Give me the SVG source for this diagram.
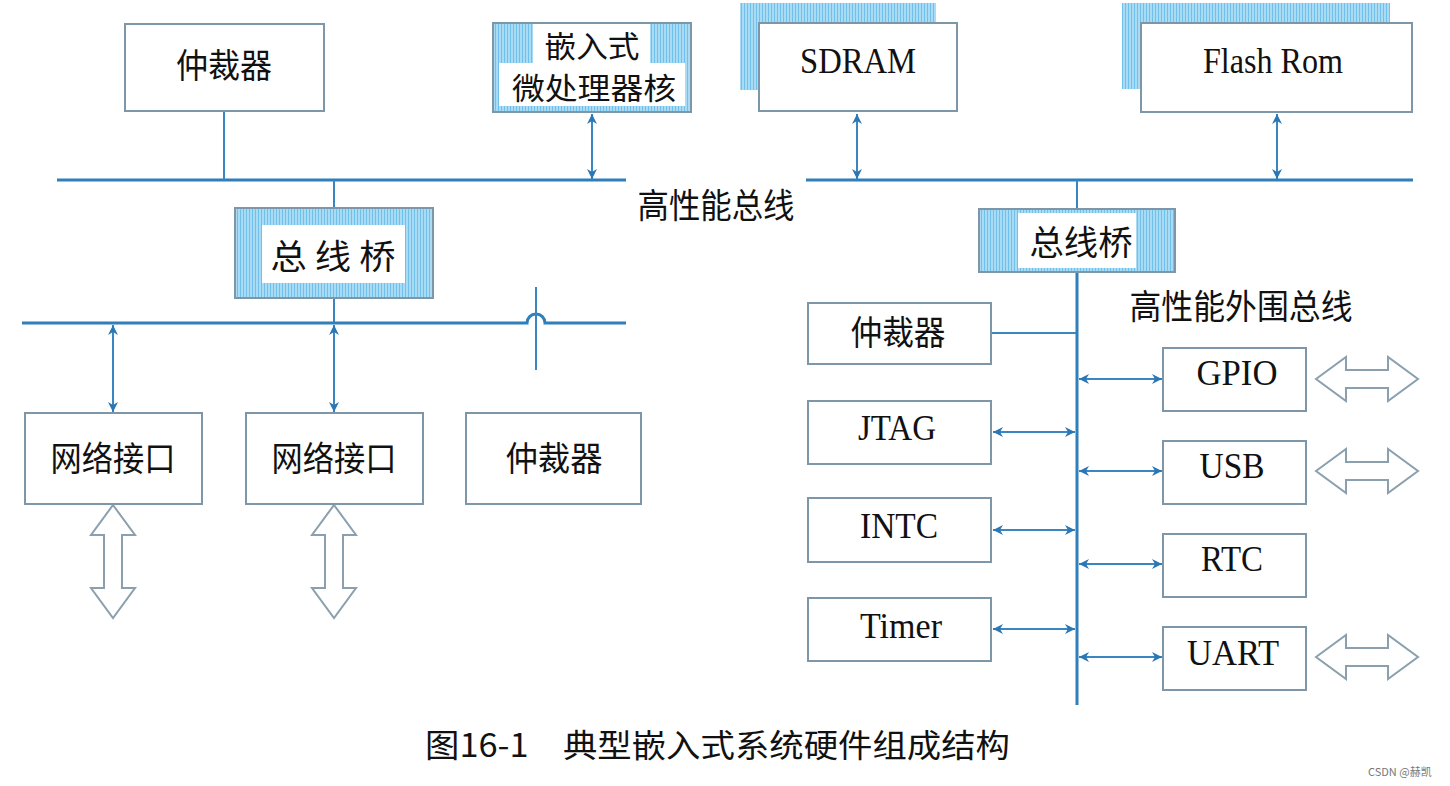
<svg xmlns="http://www.w3.org/2000/svg" width="1450" height="786" viewBox="0 0 1450 786">
<style>
.box{fill:#fff;stroke:#7d96a8;stroke-width:2}
.bus{stroke:#2f7fba;stroke-width:3;fill:none}
.ln{stroke:#3a86c0;stroke-width:2;fill:none}
.arr{stroke:#3a86c0;stroke-width:2;fill:none;marker-start:url(#ah);marker-end:url(#ah)}
.hollow{fill:#fff;stroke:#8aa0ae;stroke-width:2;stroke-linejoin:miter}
.cn{font-family:"Noto Sans CJK SC","Noto Sans",sans-serif;font-size:34px;fill:#111}
.cn2{font-family:"Noto Sans CJK SC","Noto Sans",sans-serif;font-size:30px;fill:#111}
.en{font-family:"Liberation Serif","Times New Roman",serif;font-size:36px;fill:#111}
.cap{font-family:"Noto Sans CJK SC","Noto Sans",sans-serif;font-size:32px;fill:#111}
.wm{font-family:"Noto Sans CJK SC","Noto Sans",sans-serif;font-size:11px;fill:#777}
</style>
<defs>
<pattern id="hatch" width="3" height="3" patternUnits="userSpaceOnUse">
<rect width="3" height="3" fill="#a9dcf4"/>
<rect width="1" height="3" fill="#6fc0ea"/>
</pattern>
<marker id="ah" viewBox="0 0 10 10" refX="10" refY="5" markerWidth="11" markerHeight="10" markerUnits="userSpaceOnUse" orient="auto-start-reverse">
<path d="M0,0 L10,5 L0,10 L3,5 Z" fill="#2a77b4"/>
</marker>
</defs>

<g id="connectors">
<line class="bus" x1="57" y1="180" x2="626" y2="180"/>
<line class="bus" x1="806" y1="180" x2="1413" y2="180"/>
<line class="ln" x1="224" y1="111" x2="224" y2="180"/>
<line class="arr" x1="592" y1="114" x2="592" y2="179"/>
<line class="arr" x1="857" y1="114" x2="857" y2="179"/>
<line class="arr" x1="1277" y1="114" x2="1277" y2="179"/>
<line class="ln" x1="334" y1="180" x2="334" y2="208"/>
<line class="ln" x1="334" y1="298" x2="334" y2="323"/>
<path class="bus" d="M22,323 H527 A9,9 0 0 1 545,323 H626"/>
<line class="ln" x1="536" y1="287" x2="536" y2="370"/>
<line class="arr" x1="113" y1="325" x2="113" y2="412"/>
<line class="arr" x1="334" y1="325" x2="334" y2="412"/>
<line class="ln" x1="1077" y1="180" x2="1077" y2="209"/>
<line class="bus" x1="1077" y1="272" x2="1077" y2="705"/>
<line class="ln" x1="991" y1="333" x2="1076" y2="333"/>
<line class="arr" x1="993" y1="432" x2="1075" y2="432"/>
<line class="arr" x1="993" y1="530" x2="1075" y2="530"/>
<line class="arr" x1="993" y1="629" x2="1075" y2="629"/>
<line class="arr" x1="1079" y1="379" x2="1162" y2="379"/>
<line class="arr" x1="1079" y1="471" x2="1162" y2="471"/>
<line class="arr" x1="1079" y1="564" x2="1162" y2="564"/>
<line class="arr" x1="1079" y1="657" x2="1162" y2="657"/>
<path class="hollow" d="M113,505 L135,535 L122,535 L122,588 L135,588 L113,618 L91,588 L104,588 L104,535 L91,535 Z"/>
<path class="hollow" d="M334,505 L356,535 L343,535 L343,588 L356,588 L334,618 L312,588 L325,588 L325,535 L312,535 Z"/>
<path class="hollow" d="M1316,379 L1346,357 L1346,370 L1388,370 L1388,357 L1418,379 L1388,401 L1388,388 L1346,388 L1346,401 Z"/>
<path class="hollow" d="M1316,471 L1346,449 L1346,462 L1388,462 L1388,449 L1418,471 L1388,493 L1388,480 L1346,480 L1346,493 Z"/>
<path class="hollow" d="M1316,657 L1346,635 L1346,648 L1388,648 L1388,635 L1418,657 L1388,679 L1388,666 L1346,666 L1346,679 Z"/>
</g>

<g id="arb-top">
<rect class="box" x="125" y="24" width="199" height="87"/>
<text class="cn" x="224" y="78" text-anchor="middle" textLength="96" lengthAdjust="spacingAndGlyphs">仲裁器</text>
</g>

<g id="cpu">
<rect x="493" y="23" width="198" height="89" fill="url(#hatch)" stroke="#7d96a8" stroke-width="2"/>
<rect x="533" y="24" width="117" height="40" fill="#fff"/>
<rect x="499" y="63" width="186" height="43" fill="#fff"/>
<text class="cn2" x="592" y="57" text-anchor="middle" textLength="95" lengthAdjust="spacingAndGlyphs">嵌入式</text>
<text class="cn2" x="594" y="99" text-anchor="middle" textLength="164" lengthAdjust="spacingAndGlyphs">微处理器核</text>
</g>

<g id="sdram">
<rect x="740" y="3" width="196" height="87" fill="url(#hatch)"/>
<rect class="box" x="759" y="23" width="198" height="88"/>
<text class="en" x="858" y="73" text-anchor="middle" textLength="116" lengthAdjust="spacingAndGlyphs">SDRAM</text>
</g>

<g id="flash">
<rect x="1122" y="3" width="268" height="86" fill="url(#hatch)"/>
<rect class="box" x="1141" y="23" width="271" height="89"/>
<text class="en" x="1273" y="73" text-anchor="middle" textLength="140" lengthAdjust="spacingAndGlyphs">Flash Rom</text>
</g>

<g id="hp-bus-label">
<text class="cn" x="716" y="218" text-anchor="middle" textLength="157" lengthAdjust="spacingAndGlyphs">高性能总线</text>
</g>

<g id="bridge-left">
<rect x="235" y="208" width="198" height="90" fill="url(#hatch)" stroke="#7d96a8" stroke-width="2"/>
<rect x="262" y="225" width="143" height="58" fill="#fff"/>
<text class="cn" x="333" y="269" text-anchor="middle" textLength="125" lengthAdjust="spacingAndGlyphs">总 线 桥</text>
</g>

<g id="net1">
<rect class="box" x="25" y="413" width="177" height="91"/>
<text class="cn" x="113" y="471" text-anchor="middle" textLength="125" lengthAdjust="spacingAndGlyphs">网络接口</text>
</g>
<g id="net2">
<rect class="box" x="246" y="413" width="177" height="91"/>
<text class="cn" x="334" y="471" text-anchor="middle" textLength="125" lengthAdjust="spacingAndGlyphs">网络接口</text>
</g>
<g id="arb-bottom">
<rect class="box" x="466" y="413" width="175" height="91"/>
<text class="cn" x="554" y="471" text-anchor="middle" textLength="97" lengthAdjust="spacingAndGlyphs">仲裁器</text>
</g>

<g id="bridge-right">
<rect x="979" y="209" width="196" height="63" fill="url(#hatch)" stroke="#7d96a8" stroke-width="2"/>
<rect x="1018" y="213" width="118" height="55" fill="#fff"/>
<text class="cn" x="1081" y="255" text-anchor="middle" textLength="103" lengthAdjust="spacingAndGlyphs">总线桥</text>
</g>

<g id="periph-bus-label">
<text class="cn" x="1241" y="319" text-anchor="middle" textLength="223" lengthAdjust="spacingAndGlyphs">高性能外围总线</text>
</g>

<g id="arb-right">
<rect class="box" x="808" y="303" width="183" height="61"/>
<text class="cn" x="898" y="345" text-anchor="middle" textLength="95" lengthAdjust="spacingAndGlyphs">仲裁器</text>
</g>
<g id="jtag">
<rect class="box" x="808" y="401" width="183" height="63"/>
<text class="en" x="897" y="440" text-anchor="middle" textLength="78" lengthAdjust="spacingAndGlyphs">JTAG</text>
</g>
<g id="intc">
<rect class="box" x="808" y="498" width="183" height="64"/>
<text class="en" x="899" y="538" text-anchor="middle" textLength="78" lengthAdjust="spacingAndGlyphs">INTC</text>
</g>
<g id="timer">
<rect class="box" x="808" y="598" width="183" height="63"/>
<text class="en" x="901" y="638" text-anchor="middle" textLength="82" lengthAdjust="spacingAndGlyphs">Timer</text>
</g>

<g id="gpio">
<rect class="box" x="1163" y="348" width="143" height="63"/>
<text class="en" x="1237" y="385" text-anchor="middle" textLength="81" lengthAdjust="spacingAndGlyphs">GPIO</text>
</g>
<g id="usb">
<rect class="box" x="1163" y="441" width="143" height="63"/>
<text class="en" x="1232" y="478" text-anchor="middle" textLength="65" lengthAdjust="spacingAndGlyphs">USB</text>
</g>
<g id="rtc">
<rect class="box" x="1163" y="534" width="143" height="63"/>
<text class="en" x="1232" y="571" text-anchor="middle" textLength="62" lengthAdjust="spacingAndGlyphs">RTC</text>
</g>
<g id="uart">
<rect class="box" x="1163" y="627" width="143" height="63"/>
<text class="en" x="1233" y="665" text-anchor="middle" textLength="92" lengthAdjust="spacingAndGlyphs">UART</text>
</g>

<g id="caption">
<text class="cap" x="425" y="757" textLength="585" lengthAdjust="spacingAndGlyphs">图16-1　典型嵌入式系统硬件组成结构</text>
</g>
<text class="wm" x="1368" y="776">CSDN @赫凯</text>
</svg>
